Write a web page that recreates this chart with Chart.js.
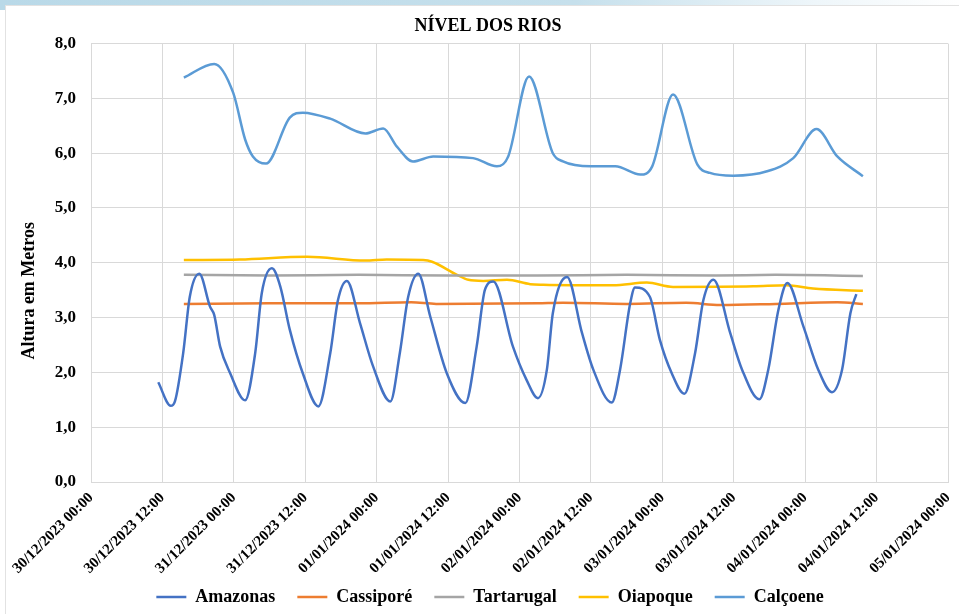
<!DOCTYPE html>
<html>
<head>
<meta charset="utf-8">
<script src="https://cdn.jsdelivr.net/npm/chart.js@4.4.1/dist/chart.umd.min.js"></script>
<style>
  html, body { margin: 0; padding: 0; width: 959px; height: 614px; overflow: hidden; background: #fff; }
  #band { position: absolute; left: 0; top: 0; width: 959px; height: 10px;
          background: linear-gradient(to right, #b9d9e8 0%, #c6e0ec 60%, #eef6fa 85%, #ffffff 100%); }
  #panel { position: absolute; left: 5px; top: 5px; width: 954px; height: 609px; background: #fff;
           border-left: 1px solid #e2e2e2; border-top: 1px solid #e2e2e2; box-sizing: border-box; }
  #wrap { position: absolute; left: 0; top: 0; width: 959px; height: 614px; }
</style>
</head>
<body>
<div id="band"></div>
<div id="panel"></div>
<div id="wrap"><canvas id="c" width="959" height="614"></canvas></div>
<script>
// Hours elapsed since 30/12/2023 00:00
const tickLabels = ["30/12/2023 00:00","30/12/2023 12:00","31/12/2023 00:00","31/12/2023 12:00",
  "01/01/2024 00:00","01/01/2024 12:00","02/01/2024 00:00","02/01/2024 12:00",
  "03/01/2024 00:00","03/01/2024 12:00","04/01/2024 00:00","04/01/2024 12:00","05/01/2024 00:00"];

const amazonasHours = [11.3,13.4,14.1,15.5,16.6,18.2,20.0,20.7,21.7,23.4,25.9,27.6,28.7,30.4,31.8,33.4,35.6,38.2,40.2,41.5,
  43.0,45.2,47.4,50.3,51.9,53.3,55.0,57.0,59.8,62.9,64.8,66.2,67.6,70.9,73.2,75.1,76.6,77.6,80.0,82.5,
  84.4,87.5,88.9,90.6,91.4,93.9,95.6,97.6,99.7,101.5,102.9,104.6,107.4,109.4,112.3,113.8,115.5,117.0,119.7,122.2,
  124.5,126.2,127.6,128.6];
const amazonasValues = [1.82,1.39,1.47,2.36,3.38,3.80,3.20,3.05,2.47,1.98,1.49,2.36,3.45,3.90,3.57,2.78,1.98,1.38,2.35,3.32,
  3.67,2.90,2.11,1.47,2.36,3.38,3.80,3.02,1.98,1.44,2.47,3.51,3.66,2.47,1.86,1.53,2.05,3.08,3.74,2.72,
  2.05,1.45,2.05,3.26,3.55,3.38,2.59,1.98,1.61,2.35,3.32,3.69,2.72,2.05,1.51,2.05,3.14,3.63,2.84,2.05,
  1.64,2.05,3.08,3.43];

const cassiporeHours = [15.6,30,45,53.8,58,75,79.3,90,100,105.7,115,125.4,129.7];
const cassiporeValues = [3.25,3.26,3.26,3.28,3.25,3.26,3.27,3.25,3.27,3.23,3.25,3.28,3.25];

const tartarugalHours = [15.6,30,45,60,75,90,105,115,129.7];
const tartarugalValues = [3.78,3.77,3.78,3.77,3.77,3.78,3.77,3.78,3.76];

const oiapoqueHours = [15.6,25.0,36.3,46.1,49.7,55.8,57.3,61.5,63.4,65.9,69.9,73.8,76.0,87.7,93.4,97.8,111.3,116.9,121.3,129.7];
const oiapoqueValues = [4.05,4.06,4.11,4.04,4.06,4.05,4.02,3.78,3.69,3.67,3.69,3.61,3.60,3.59,3.64,3.56,3.57,3.59,3.53,3.49];

const calcoeneHours = [15.6,20.7,23.9,25.9,27.2,29.4,33.4,35.6,40.2,46.1,49.1,51.4,54.1,57.5,64.2,68.2,70.1,73.6,77.6,79.3,
  84.0,88.1,92.3,94.3,97.8,101.9,104.0,107.9,113.6,118.0,121.9,125.4,129.7];
const calcoeneValues = [7.38,7.63,7.10,6.25,5.94,5.81,6.65,6.74,6.63,6.36,6.45,6.12,5.85,5.94,5.91,5.76,5.94,7.40,6.00,5.85,
  5.76,5.76,5.61,5.76,7.07,5.79,5.64,5.59,5.67,5.91,6.44,5.94,5.58];

const yTitle = 'Altura em Metros';

function pts(h, v) { return h.map((x, i) => ({ x: x, y: v[i] })); }
function ds(label, h, v, color) {
  return { label, data: pts(h, v), borderColor: color, backgroundColor: color, borderWidth: 2.5,
           pointRadius: 0, pointHoverRadius: 0, cubicInterpolationMode: 'monotone', fill: false };
}

const FONT = "'Liberation Serif', 'Times New Roman', serif";
const grid = '#d9d9d9';

// Nudge title / legend horizontally, widen x-label clip box, draw the y-axis title offset like the original
const placement = {
  id: 'placement',
  afterLayout(chart) {
    if (chart.titleBlock) { chart.titleBlock.right += 20; }
    if (chart.legend) {
      chart.legend.right += 24;
      chart.legend.top += 2; chart.legend.bottom += 2;
    }
    if (chart.scales.x) { chart.scales.x.bottom += 40; }
  },
  afterDraw(chart) {
    const ctx = chart.ctx;
    const area = chart.chartArea;
    ctx.save();
    ctx.font = "bold 18px " + FONT;
    ctx.fillStyle = '#000';
    ctx.textAlign = 'center';
    ctx.textBaseline = 'middle';
    ctx.translate(29, (area.top + area.bottom) / 2 + 28);
    ctx.rotate(-Math.PI / 2);
    ctx.fillText(yTitle, 0, 0);
    ctx.restore();
  }
};

new Chart(document.getElementById('c'), {
  type: 'line',
  data: {
    datasets: [
      ds('Amazonas', amazonasHours, amazonasValues, '#4472C4'),
      ds('Cassiporé', cassiporeHours, cassiporeValues, '#ED7D31'),
      ds('Tartarugal', tartarugalHours, tartarugalValues, '#A5A5A5'),
      ds('Oiapoque', oiapoqueHours, oiapoqueValues, '#FFC000'),
      ds('Calçoene', calcoeneHours, calcoeneValues, '#5B9BD5')
    ]
  },
  plugins: [placement],
  options: {
    responsive: false,
    animation: false,
    layout: { padding: { left: 0, right: 3, top: 0, bottom: 0 } },
    plugins: {
      title: { display: true, text: 'NÍVEL DOS RIOS', color: '#000',
               font: { family: FONT, size: 18, weight: 'bold' }, padding: { top: 16, bottom: 6 } },
      legend: { position: 'bottom',
        labels: { color: '#000', font: { family: FONT, size: 18, weight: 'bold' },
                  usePointStyle: true, pointStyle: 'line', pointStyleWidth: 30, padding: 22 } },
      tooltip: { enabled: false }
    },
    scales: {
      x: {
        type: 'linear', min: 0, max: 144,
        grid: { color: grid, drawTicks: false, lineWidth: 1 },
        border: { color: grid },
        afterBuildTicks: (s) => { s.ticks = tickLabels.map((_, i) => ({ value: i * 12 })); },
        afterFit: (s) => { s.height = 82; s.paddingRight = 11; s.paddingLeft = 0; },
        ticks: { autoSkip: false, maxRotation: 45, minRotation: 45, padding: 7, color: '#000',
                 font: { family: FONT, size: 15, weight: 'bold' },
                 callback: (v) => tickLabels[Math.round(v / 12)] }
      },
      y: {
        min: 0, max: 8,
        grid: { color: grid, drawTicks: false, lineWidth: 1 },
        border: { color: grid },
        afterFit: (s) => { s.width = 91; },
        title: { display: false },
        ticks: { stepSize: 1, padding: 15, color: '#000',
                 font: { family: FONT, size: 17, weight: 'bold' },
                 callback: (v) => v.toFixed(1).replace('.', ',') }
      }
    }
  }
});
</script>
</body>
</html>
